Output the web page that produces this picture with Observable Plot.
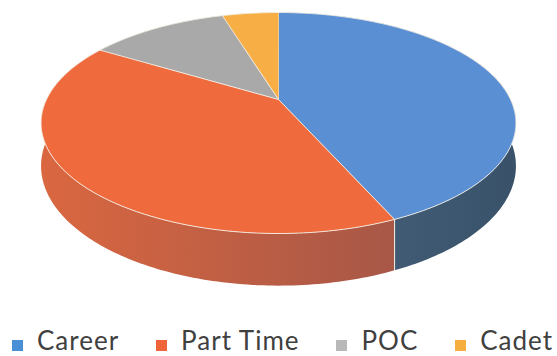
<!DOCTYPE html>
<html>
<head>
<meta charset="utf-8">
<script src="https://cdn.jsdelivr.net/npm/d3@7"></script>
<script src="https://cdn.jsdelivr.net/npm/@observablehq/plot@0.6"></script>
<style>
  body { margin: 0; background: #fff; }
  #chart { width: 557px; height: 356px; overflow: hidden; }
  #chart svg { display: block; }
  .legend { display: flex; justify-content: space-between; align-items: flex-start;
            width: 541px; height: 30px; padding-left: 12px;
            font-family: Lato, sans-serif; font-size: 26px; letter-spacing: 1px;
            line-height: 28px; color: #404040; white-space: nowrap; }
  .legend .item { display: block; }
  .legend .sw { display: inline-block; width: 11px; height: 11px; margin-right: 14px;
                vertical-align: baseline; margin-bottom: -1px; }
</style>
</head>
<body>
<div id="chart"></div>
<script>
// Membership by category (share of total, %)
const categories = ["Career", "Part Time", "POC", "Cadet"];
const shares = [43.4, 40.3, 11.6, 4.7];

// Fill colours: top face, side wall (left end, right end), legend swatch
const topColors = ["#5a8fd3", "#ef6b3d", "#a9a9a9", "#f6ae45"];
const wallColors = [["#587593", "#39526a"], ["#da6740", "#96524a"], ["#8a8a8a", "#747474"], ["#d89a3c", "#c08632"]];
const swatchColors = ["#4a8fd6", "#f0643a", "#b8b8b8", "#f5ae3f"];

// Tilted disc seen in perspective: theta measured clockwise from the back,
// r is the radius (0..1), h the depth below the top face (0..1).
const TILT = 0.2127, DEPTH = 0.389;
function project(theta, r, h) {
  const u = r * Math.sin(theta), v = -r * Math.cos(theta), w = 1 - TILT * v;
  return {x: u / w, y: (v + h * DEPTH) / w};
}

const total = d3.sum(shares);
const angles = Array.from(d3.cumsum([0, ...shares]), s => s / total * 2 * Math.PI);
const STEP = Math.PI / 180;
const arc = (a0, a1, h) => {
  const n = Math.max(2, Math.ceil(Math.abs(a1 - a0) / STEP));
  return d3.range(n + 1).map(j => project(a0 + (a1 - a0) * j / n, 1, h));
};

// Top face of every slice: hub, then the outer arc
const tops = categories.flatMap((c, i) =>
  [project(0, 0, 0), ...arc(angles[i], angles[i + 1], 0)].map(p => ({key: c, fill: topColors[i], ...p})));

// Outer wall of every slice: top rim forward, bottom rim back; painted back to front
const walls = categories.map((c, i) => ({
  i,
  depth: -Math.cos((angles[i] + angles[i + 1]) / 2),
  rows: [...arc(angles[i], angles[i + 1], 0), ...arc(angles[i + 1], angles[i], 1)]
})).sort((a, b) => a.depth - b.depth);

// Seams on the visible front of the wall where two slices meet
const seams = angles.slice(1, -1)
  .filter(a => -Math.cos(a) > TILT)
  .flatMap((a, k) => [{key: k, ...project(a, 1, 0)}, {key: k, ...project(a, 1, 1)}]);

const plot = Plot.plot({
  width: 557,
  height: 326,
  margin: 0,
  x: {domain: [-1, 1], range: [46, 510], axis: null},
  y: {domain: [-1, 1], range: [-6.5, 204.5], axis: null},
  marks: [
    ...walls.map(w => Plot.line(w.rows, {x: "x", y: "y", fill: `url(#wall-${w.i})`, stroke: "none"})),
    Plot.line(tops, {x: "x", y: "y", z: "key", fill: "fill", stroke: "#f6f0e8", strokeWidth: 0.9}),
    Plot.line(seams, {x: "x", y: "y", z: "key", stroke: "#f3ece2", strokeWidth: 1})
  ]
});

// Horizontal shading for the walls, spanning the disc's full width
const xs = plot.scale("x");
const defs = d3.select(plot).insert("defs", ":first-child");
wallColors.forEach(([left, right], i) => {
  const g = defs.append("linearGradient").attr("id", `wall-${i}`)
    .attr("gradientUnits", "userSpaceOnUse")
    .attr("x1", xs.apply(-1.03)).attr("x2", xs.apply(1.03)).attr("y1", 0).attr("y2", 0);
  g.append("stop").attr("offset", 0).attr("stop-color", left);
  g.append("stop").attr("offset", 1).attr("stop-color", right);
});

const chart = document.getElementById("chart");
chart.append(plot);

const legend = d3.select(chart).append("div").attr("class", "legend");
const items = legend.selectAll(".item").data(categories).join("div").attr("class", "item");
items.append("span").attr("class", "sw").style("background", (d, i) => swatchColors[i]);
items.append("span").text(d => d);
</script>
</body>
</html>
